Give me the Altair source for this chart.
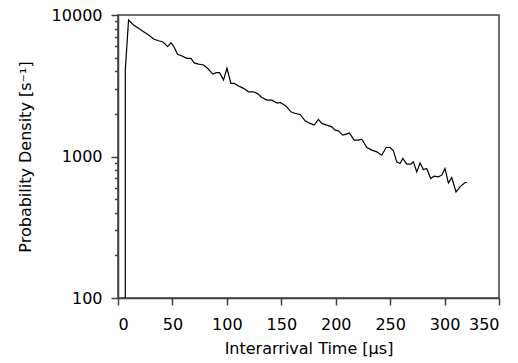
import altair as alt
import pandas as pd

# Interarrival time [µs] and probability density [1/s]
time_us = [6.7, 6.7, 9.7, 14.3, 18.9, 23.5, 28.1, 32.7, 37.3, 40.9, 43.4, 45.5, 48.7, 51.0,
           54.7, 58.7, 63.3, 67.0, 70.0, 74.0, 78.6, 82.2, 87.2, 90.2, 93.3, 96.9, 100.1,
           103.7, 106.8, 110.7, 115.3, 119.9, 124.5, 128.1, 132.2, 136.8, 141.4, 146.0,
           149.0, 154.5, 158.8, 162.8, 167.3, 171.9, 176.5, 180.2, 184.1, 187.3, 191.8,
           196.4, 199.5, 202.5, 206.5, 209.6, 212.6, 216.9, 220.9, 224.0, 228.6, 233.2,
           237.7, 242.3, 246.3, 250.0, 253.0, 256.1, 259.1, 261.6, 265.3, 269.0, 271.3,
           274.5, 277.5, 280.5, 283.6, 287.3, 290.3, 294.3, 297.4, 300.4, 303.5, 306.6,
           310.5, 314.2, 318.8, 320.4]
density = [1, 4080, 9220, 8490, 8050, 7620, 7220, 6760, 6580, 6470, 6230, 5970, 6370, 6030,
           5270, 5130, 4940, 4940, 4590, 4500, 4430, 4200, 3825, 3910, 3910, 3470, 4200,
           3285, 3285, 3145, 3030, 2865, 2865, 2790, 2615, 2503, 2503, 2385,
           2410, 2270, 2070, 2015, 1983, 1787, 1713, 1666, 1827, 1713, 1666,
           1621, 1535, 1518, 1415, 1439, 1469, 1304, 1304, 1326, 1158, 1109,
           1079, 1021, 1158, 1158, 1096, 916, 892, 968, 882, 882, 916,
           778, 901, 809, 822, 698, 726, 718, 738, 822, 650, 710,
           562, 610, 655, 655]

x_ticks = [0, 50, 100, 150, 200, 250, 300, 350]
y_major = [100, 1000, 10000]
y_ticks = [100, 200, 300, 400, 500, 600, 700, 800, 900,
           1000, 2000, 3000, 4000, 5000, 6000, 7000, 8000, 9000, 10000]

df = pd.DataFrame({"t": time_us, "p": density, "idx": list(range(len(time_us)))})

FONT = "DejaVu Sans"
AX = "#404040"

chart = alt.Chart(df).mark_line(color="black", strokeWidth=1.2, clip=True).encode(
    x=alt.X("t:Q",
            scale=alt.Scale(domain=[0, 350], nice=False, zero=False),
            axis=alt.Axis(title="Interarrival Time [µs]", values=x_ticks, grid=False,
                          tickSize=7, labelPadding=11, titlePadding=8, format="d")),
    y=alt.Y("p:Q",
            scale=alt.Scale(type="log", domain=[100, 10000], nice=False),
            axis=alt.Axis(title="Probability Density [s⁻¹]", values=y_ticks, grid=False,
                          format="d",
                          labelExpr="indexof([100,1000,10000], datum.value) >= 0 ? datum.label : ''",
                          tickSize={"condition": {"test": "indexof([100,1000,10000], datum.value) >= 0",
                                                  "value": 7}, "value": 3.5},
                          labelPadding=9, titlePadding=18)),
    order="idx:Q",
).properties(
    width=381, height=283,
    autosize=alt.AutoSizeParams(type="none"),
    padding={"left": 110, "top": 7, "right": 10, "bottom": 72},
).configure_view(
    stroke=AX, strokeWidth=1.5
).configure_axis(
    domainColor=AX, domainWidth=1.5, tickColor=AX, tickWidth=1.5,
    labelFont=FONT, titleFont=FONT, labelFontSize=16, titleFontSize=16,
    labelColor="black", titleColor="black", titleFontWeight="normal",
)

chart.save("out.html", embed_options={"renderer": "svg", "actions": False})
